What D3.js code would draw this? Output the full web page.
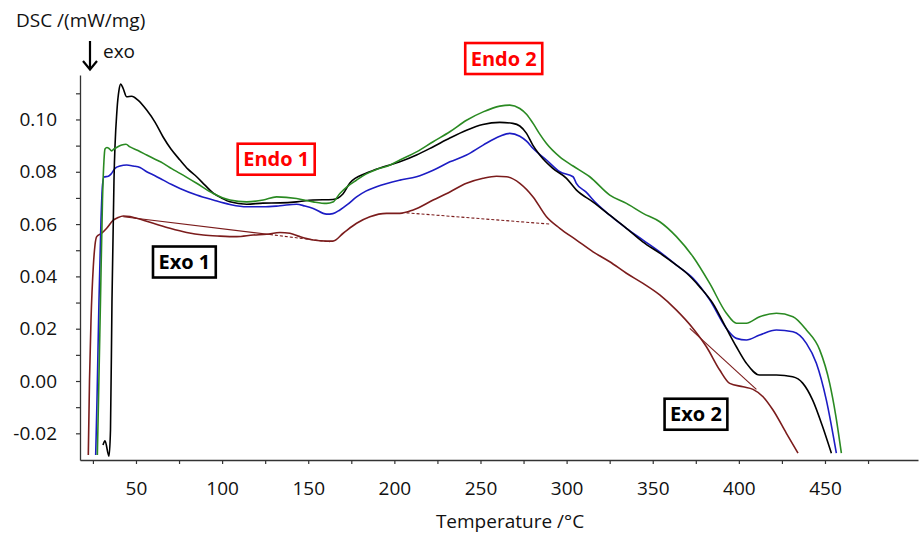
<!DOCTYPE html>
<html>
<head>
<meta charset="utf-8">
<script src="https://cdn.jsdelivr.net/npm/d3@7"></script>
<style>
  body { margin: 0; background: #fff; }
  text { font-family: "Open Sans", sans-serif; fill: #111; }
</style>
</head>
<body>
<div id="chart"></div>
<script>
// tick labels
const xTickLabels = [50, 100, 150, 200, 250, 300, 350, 400, 450];
const yTickLabels = [-0.02, 0.00, 0.02, 0.04, 0.06, 0.08, 0.10];

// curves, [temperature °C, DSC mW/mg]
const blackCurve = [
  [30.85,-0.0245],[32.01,-0.0229],[34.33,-0.0287],[35.20,-0.0187],[36.07,0.0310],[37.23,0.0768],
  [38.97,0.1036],[40.14,0.1112],[41.12,0.1135],[42.46,0.1120],[44.60,0.1087],[47.50,0.1089],
  [51.16,0.1074],[56.21,0.1036],[61.03,0.0990],[65.67,0.0934],[70.31,0.0887],[75.53,0.0845],
  [80.17,0.0810],[85.22,0.0781],[90.04,0.0749],[94.68,0.0719],[99.90,0.0699],[104.55,0.0685],
  [114.24,0.0676],[123.70,0.0680],[133.56,0.0681],[143.25,0.0685],[152.71,0.0692],[164.32,0.0694],
  [170.12,0.0715],[174.18,0.0757],[183.87,0.0795],[193.33,0.0818],[203.19,0.0838],[212.88,0.0864],
  [222.34,0.0895],[232.21,0.0929],[241.90,0.0959],[251.36,0.0981],[261.22,0.0989],[268.77,0.0985],
  [272.83,0.0975],[276.72,0.0947],[280.37,0.0902],[284.43,0.0864],[291.98,0.0813],[299.93,0.0775],
  [305.73,0.0730],[315.19,0.0685],[325.06,0.0634],[334.75,0.0584],[344.20,0.0532],[354.07,0.0489],
  [363.76,0.0443],[369.56,0.0413],[377.28,0.0360],[384.82,0.0298],[392.77,0.0201],[398.57,0.0131],
  [404.37,0.0068],[412.09,0.0023],[421.78,0.0023],[431.24,0.0016],[437.05,-0.0008],[442.85,-0.0073],
  [448.65,-0.0175],[453.70,-0.0276]
];
const blueCurve = [
  [26.61,-0.0283],[27.37,-0.0073],[28.53,0.0310],[29.69,0.0615],[30.56,0.0749],[31.43,0.0780],
  [33.93,0.0783],[35.49,0.0791],[37.81,0.0813],[40.72,0.0822],[44.60,0.0826],[48.43,0.0822],
  [52.32,0.0816],[56.21,0.0800],[61.03,0.0785],[65.84,0.0768],[70.72,0.0751],[75.53,0.0736],
  [85.22,0.0711],[94.86,0.0692],[104.55,0.0675],[114.24,0.0666],[123.87,0.0666],[133.56,0.0670],
  [143.25,0.0676],[148.07,0.0669],[152.88,0.0660],[160.66,0.0638],[164.32,0.0640],[168.38,0.0654],
  [173.02,0.0676],[178.07,0.0704],[183.46,0.0726],[189.67,0.0743],[203.19,0.0768],[212.88,0.0781],
  [222.52,0.0806],[232.21,0.0838],[241.90,0.0864],[251.53,0.0902],[261.22,0.0936],[267.02,0.0947],
  [272.83,0.0936],[276.72,0.0917],[280.54,0.0889],[288.32,0.0845],[296.04,0.0800],[303.75,0.0781],
  [305.54,0.0757],[311.35,0.0722],[317.15,0.0680],[325.05,0.0634],[334.74,0.0584],[344.38,0.0539],
  [354.07,0.0494],[363.76,0.0443],[373.40,0.0393],[383.09,0.0310],[392.78,0.0201],[398.58,0.0163],
  [404.38,0.0157],[412.10,0.0176],[421.79,0.0195],[431.42,0.0188],[439.20,0.0144],[445.00,0.0068],
  [450.80,-0.0073],[456.60,-0.0276]
];
const greenCurve = [
  [27.57,-0.0283],[28.24,-0.0073],[29.40,0.0310],[30.56,0.0692],[31.43,0.0845],[32.01,0.0887],
  [33.17,0.0893],[34.33,0.0889],[35.90,0.0880],[37.23,0.0887],[38.80,0.0893],[41.70,0.0902],
  [44.20,0.0905],[46.52,0.0895],[51.16,0.0881],[56.21,0.0864],[61.03,0.0848],[65.84,0.0832],
  [70.72,0.0812],[75.53,0.0794],[85.22,0.0756],[94.86,0.0717],[104.55,0.0692],[114.24,0.0685],
  [123.87,0.0692],[131.65,0.0704],[143.25,0.0698],[152.88,0.0685],[160.66,0.0679],[164.32,0.0684],
  [168.38,0.0717],[173.02,0.0745],[178.07,0.0768],[183.46,0.0791],[189.67,0.0809],[196.23,0.0822],
  [203.19,0.0845],[212.88,0.0876],[222.52,0.0915],[232.21,0.0953],[241.90,0.0997],[251.53,0.1029],
  [261.22,0.1051],[267.02,0.1055],[272.83,0.1042],[276.72,0.1020],[280.54,0.0985],[284.43,0.0944],
  [288.32,0.0908],[296.04,0.0857],[303.75,0.0822],[313.44,0.0781],[325.05,0.0711],[334.74,0.0679],
  [344.38,0.0641],[354.07,0.0609],[363.76,0.0552],[373.40,0.0475],[383.09,0.0373],[392.78,0.0259],
  [398.58,0.0221],[404.38,0.0221],[412.10,0.0246],[421.79,0.0259],[431.42,0.0246],[439.20,0.0195],
  [446.93,0.0119],[452.73,-0.0009],[456.21,-0.0130],[459.52,-0.0276]
];
const brownCurve = [
  [22.32,-0.0283],[23.02,0.0004],[23.89,0.0233],[25.22,0.0437],[26.21,0.0520],[27.20,0.0552],
  [30.10,0.0565],[33.00,0.0584],[36.83,0.0615],[39.56,0.0625],[42.63,0.0631],[46.52,0.0629],
  [50.41,0.0622],[60.04,0.0603],[69.73,0.0584],[79.42,0.0568],[89.05,0.0558],[98.74,0.0554],
  [108.43,0.0552],[118.07,0.0558],[125.84,0.0561],[133.56,0.0568],[139.36,0.0565],[145.17,0.0552],
  [152.88,0.0539],[160.66,0.0535],[164.32,0.0535],[170.29,0.0565],[178.07,0.0603],[185.79,0.0628],
  [195.48,0.0641],[203.19,0.0641],[210.91,0.0654],[222.52,0.0692],[232.21,0.0723],[241.90,0.0756],
  [251.53,0.0775],[259.31,0.0783],[265.11,0.0781],[272.83,0.0756],[280.54,0.0704],[288.32,0.0628],
  [296.04,0.0584],[305.73,0.0539],[315.36,0.0494],[325.05,0.0456],[334.74,0.0412],[344.38,0.0373],
  [354.07,0.0329],[363.76,0.0271],[373.40,0.0201],[381.17,0.0131],[388.89,0.0042],[394.69,-0.0009],
  [402.41,-0.0022],[408.22,-0.0032],[414.02,-0.0060],[419.82,-0.0111],[427.60,-0.0200],[434.33,-0.0276]
];

// construction baselines on the brown curve
const baseSolid = [
  [[42.63,0.0628],[127.76,0.0560]],
  [[371.48,0.0201],[410.18,-0.0032]]
];
const baseDashed = [
  [[127.76,0.0560],[162.6,0.0532]],
  [[207.09,0.0643],[290.24,0.0600]]
];

// boxed annotations
const annoLabels = ["Endo 1", "Endo 2", "Exo 1", "Exo 2"];
const annoT = [131.4, 263.5, 78.1, 375.1];
const annoV = [0.0848, 0.1233, 0.0455, -0.0127];
const annoKind = ["endo", "endo", "exo", "exo"];

const width = 920, height = 540;
const margin = {top: 75, right: 2, bottom: 80, left: 80};

const svg = d3.select("#chart")
  .append("svg")
  .attr("width", width)
  .attr("height", height)
  .style("background", "#fff");

const x = d3.scaleLinear()
  .domain([17.5, 504])
  .range([margin.left, width - margin.right]);

const y = d3.scaleLinear()
  .domain([-0.0302, 0.117])
  .range([height - margin.bottom, margin.top]);

// axes: a tick every 25 °C / 0.01, labels only on the major ones
const xAxis = d3.axisBottom(x)
  .tickValues(d3.range(25, 500, 25))
  .tickSize(4)
  .tickSizeOuter(0)
  .tickPadding(18)
  .tickFormat(d => xTickLabels.includes(d) ? d : "");

const yAxis = d3.axisLeft(y)
  .tickValues(d3.range(-2, 12).map(i => i / 100))
  .tickSize(4)
  .tickSizeOuter(0)
  .tickPadding(19)
  .tickFormat(d => yTickLabels.some(t => Math.abs(t - d) < 1e-9) ? (Math.round(d * 100) / 100).toFixed(2) : "");

const gx = svg.append("g")
  .attr("transform", `translate(0,${height - margin.bottom})`)
  .call(xAxis);
const gy = svg.append("g")
  .attr("transform", `translate(${margin.left},0)`)
  .call(yAxis);

[gx, gy].forEach(g => {
  g.select(".domain").attr("stroke", "#333").attr("stroke-width", 1.3);
  g.selectAll(".tick line").attr("stroke", "#333").attr("stroke-width", 1.2);
  g.selectAll(".tick text")
    .style("font-family", '"Open Sans", sans-serif')
    .style("font-size", "19px")
    .attr("fill", "#111");
});

// axis titles
svg.append("text")
  .attr("x", 16)
  .attr("y", 27)
  .style("font-size", "19px")
  .text("DSC /(mW/mg)");

svg.append("text")
  .attr("x", (x.range()[0] + x.range()[1]) / 2 + 11)
  .attr("y", 528)
  .attr("text-anchor", "middle")
  .style("font-size", "19px")
  .text("Temperature /°C");

// exo arrow
const arrow = svg.append("g")
  .attr("stroke", "#000")
  .attr("stroke-width", 2.2)
  .attr("fill", "none");
arrow.append("line").attr("x1", 90).attr("x2", 90).attr("y1", 41).attr("y2", 69);
arrow.append("path").attr("d", "M83,61 L90,69.5 L97,61");

svg.append("text")
  .attr("x", 103)
  .attr("y", 58)
  .style("font-size", "19px")
  .text("exo");

// curves
const line = d3.line()
  .x(d => x(d[0]))
  .y(d => y(d[1]))
  .curve(d3.curveMonotoneX);

const series = [
  {name: "brown", data: brownCurve, color: "#7b1c1c"},
  {name: "blue", data: blueCurve, color: "#1c1cc4"},
  {name: "black", data: blackCurve, color: "#000000"},
  {name: "green", data: greenCurve, color: "#2a8a22"},
];

svg.append("g")
  .selectAll("path")
  .data(series)
  .join("path")
  .attr("class", d => "curve-" + d.name)
  .attr("fill", "none")
  .attr("stroke", d => d.color)
  .attr("stroke-width", 1.6)
  .attr("stroke-linejoin", "round")
  .attr("d", d => line(d.data));

// brown baselines
const straight = d3.line().x(d => x(d[0])).y(d => y(d[1]));

svg.append("g")
  .selectAll("path")
  .data(baseSolid)
  .join("path")
  .attr("fill", "none")
  .attr("stroke", "#7b1c1c")
  .attr("stroke-width", 1.1)
  .attr("d", straight);

svg.append("g")
  .selectAll("path")
  .data(baseDashed)
  .join("path")
  .attr("fill", "none")
  .attr("stroke", "#7b1c1c")
  .attr("stroke-width", 1.1)
  .attr("stroke-dasharray", "3,2")
  .attr("d", straight);

// boxed labels
const anno = svg.append("g")
  .selectAll("g")
  .data(annoLabels)
  .join("g")
  .attr("transform", (d, i) => `translate(${x(annoT[i])},${y(annoV[i])})`);

anno.append("text")
  .attr("text-anchor", "middle")
  .attr("dy", "0.36em")
  .style("font-size", "20px")
  .style("font-weight", "bold")
  .attr("fill", (d, i) => annoKind[i] === "endo" ? "#ff0000" : "#000")
  .style("fill", (d, i) => annoKind[i] === "endo" ? "#ff0000" : "#000")
  .text(d => d);

anno.insert("rect", "text")
  .each(function () {
    const t = this.parentNode.querySelector("text");
    const w = t.getComputedTextLength() + 11;
    d3.select(this)
      .attr("x", -w / 2)
      .attr("width", w);
  })
  .attr("y", -15.5)
  .attr("height", 31)
  .attr("fill", "#fff")
  .attr("stroke", (d, i) => annoKind[i] === "endo" ? "#ff0000" : "#000")
  .attr("stroke-width", 2.6);
</script>
</body>
</html>
